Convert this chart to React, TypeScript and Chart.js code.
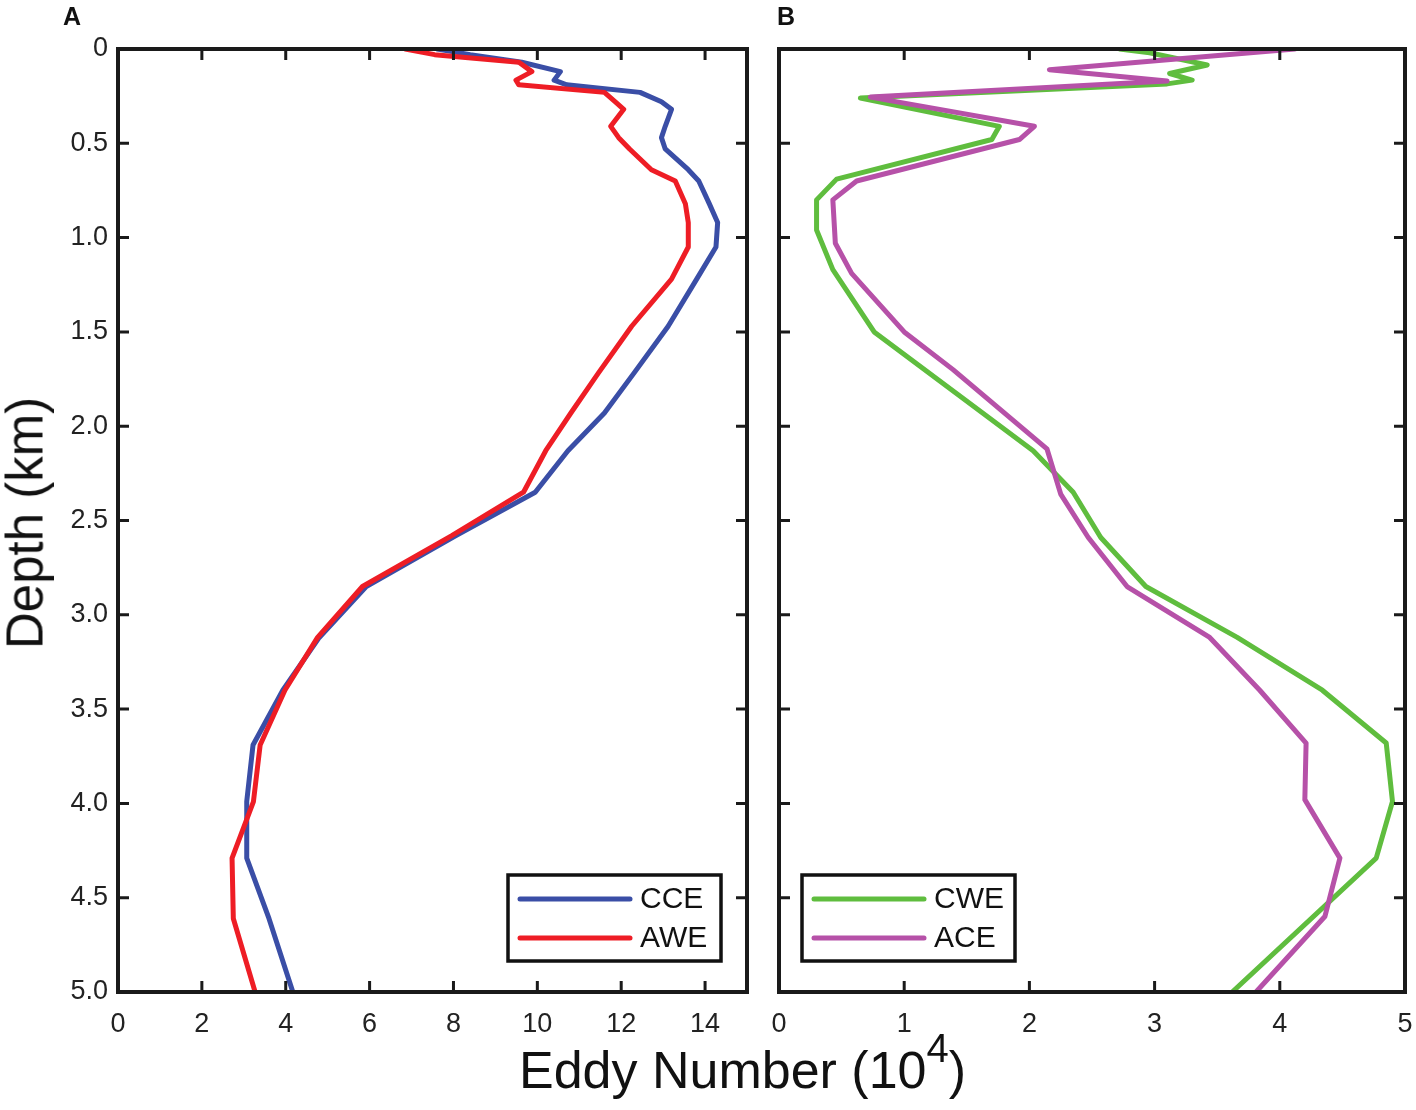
import { useEffect, useRef } from 'react';
import { Chart, registerables } from 'chart.js';

Chart.register(...registerables);

const FONT = '"Liberation Sans", Arial, Helvetica, sans-serif';

// depth levels (km) and eddy numbers (10^4)
const depthA = [0, 0.03, 0.07, 0.12, 0.165, 0.19, 0.23, 0.28, 0.32, 0.41, 0.47, 0.53, 0.64, 0.70, 0.82, 0.92, 1.05, 1.22, 1.47, 1.72, 1.93, 2.13, 2.35, 2.58, 2.85, 3.12, 3.40, 3.69, 3.99, 4.29, 4.61, 5.0];
const cce = [7.61, 8.4, 9.63, 10.55, 10.4, 10.7, 12.45, 12.96, 13.2, 13.05, 12.96, 13.05, 13.6, 13.85, 14.1, 14.3, 14.26, 13.8, 13.12, 12.3, 11.6, 10.73, 9.95, 8.06, 5.92, 4.8, 3.93, 3.22, 3.07, 3.07, 3.6, 4.17];
const awe = [6.85, 7.55, 9.56, 9.87, 9.49, 9.56, 11.6, 11.86, 12.06, 11.75, 11.94, 12.2, 12.72, 13.29, 13.53, 13.6, 13.6, 13.2, 12.25, 11.45, 10.8, 10.2, 9.67, 7.96, 5.83, 4.76, 3.98, 3.39, 3.23, 2.72, 2.75, 3.27];

const depthCWE = [0, 0.02, 0.085, 0.13, 0.165, 0.185, 0.26, 0.41, 0.48, 0.69, 0.80, 0.96, 1.17, 1.50, 2.13, 2.35, 2.59, 2.85, 3.12, 3.40, 3.68, 3.99, 4.29, 5.0];
const cwe = [2.72, 2.96, 3.42, 3.12, 3.30, 3.10, 0.65, 1.76, 1.70, 0.46, 0.30, 0.30, 0.43, 0.76, 2.03, 2.35, 2.57, 2.93, 3.66, 4.34, 4.85, 4.90, 4.77, 3.62];
const depthACE = [0, 0.11, 0.17, 0.255, 0.41, 0.48, 0.70, 0.80, 1.03, 1.19, 1.50, 1.70, 2.12, 2.36, 2.59, 2.85, 3.12, 3.40, 3.68, 3.98, 4.29, 4.60, 5.0];
const ace = [4.12, 2.16, 3.10, 0.73, 2.04, 1.92, 0.62, 0.43, 0.45, 0.58, 1.00, 1.39, 2.14, 2.25, 2.47, 2.78, 3.44, 3.84, 4.21, 4.20, 4.48, 4.36, 3.81];

const depthTicks = [0, 0.5, 1, 1.5, 2, 2.5, 3, 3.5, 4, 4.5, 5];
const xTicksA = [0, 2, 4, 6, 8, 10, 12, 14];
const xTicksB = [0, 1, 2, 3, 4, 5];

type Series = {
  label: string,
  depth: number[],
  values: number[],
  color: string,
  order: number,
};

const seriesA: Series[] = [
  { label: 'CCE', depth: depthA, values: cce, color: '#3a4ea6', order: 1 },
  { label: 'AWE', depth: depthA, values: awe, color: '#ee1d25', order: 0 },
];
const seriesB: Series[] = [
  { label: 'CWE', depth: depthCWE, values: cwe, color: '#5fbd3e', order: 1 },
  { label: 'ACE', depth: depthACE, values: ace, color: '#b651a8', order: 0 },
];

const CANVAS_H = 1050;
const PLOT_TOP = 49;
const PLOT_BOTTOM = 992;

// box frame with inward tick marks on all four sides
const frameTicks = {
  id: 'frameTicks',
  afterDraw(chart: any) {
    const { ctx, chartArea: a, scales } = chart;
    const len = 11;
    ctx.save();
    ctx.strokeStyle = '#1a1a1a';
    ctx.lineWidth = 3;
    ctx.beginPath();
    scales.x.ticks.forEach((t: any) => {
      const px = scales.x.getPixelForValue(t.value);
      ctx.moveTo(px, a.bottom);
      ctx.lineTo(px, a.bottom - len);
      ctx.moveTo(px, a.top);
      ctx.lineTo(px, a.top + len);
    });
    scales.y.ticks.forEach((t: any) => {
      const py = scales.y.getPixelForValue(t.value);
      ctx.moveTo(a.left, py);
      ctx.lineTo(a.left + len, py);
      ctx.moveTo(a.right, py);
      ctx.lineTo(a.right - len, py);
    });
    ctx.stroke();
    ctx.lineWidth = 4;
    ctx.strokeRect(a.left, a.top, a.right - a.left, a.bottom - a.top);
    ctx.restore();
  },
};

const boxLegend = {
  id: 'boxLegend',
  afterDraw(chart: any, _args: any, opts: any) {
    const { ctx, chartArea: a } = chart;
    const w = 213;
    const h = 86;
    const x0 = opts.side === 'right' ? a.right - 26 - w : a.left + 23;
    const y0 = a.bottom - 31 - h;
    ctx.save();
    ctx.fillStyle = '#fff';
    ctx.fillRect(x0, y0, w, h);
    ctx.lineWidth = 3.5;
    ctx.strokeStyle = '#111';
    ctx.strokeRect(x0, y0, w, h);
    chart.data.datasets.forEach((ds: any, i: number) => {
      const y = y0 + 24 + i * 39;
      ctx.strokeStyle = ds.borderColor;
      ctx.lineWidth = 5;
      ctx.lineCap = 'round';
      ctx.beginPath();
      ctx.moveTo(x0 + 12, y);
      ctx.lineTo(x0 + 122, y);
      ctx.stroke();
      ctx.fillStyle = '#111';
      ctx.font = `30px ${FONT}`;
      ctx.textBaseline = 'middle';
      ctx.fillText(ds.label, x0 + 132, y + 1);
    });
    ctx.restore();
  },
};

type PanelProps = {
  left: number,
  width: number,
  plotLeft: number,
  plotRight: number,
  series: Series[],
  xMax: number,
  xTicks: number[],
  yLabels: boolean,
  legendSide: 'left' | 'right',
};

function Panel({ left, width, plotLeft, plotRight, series, xMax, xTicks, yLabels, legendSide }: PanelProps) {
  const canvasRef = useRef<HTMLCanvasElement | null>(null);

  useEffect(() => {
    if (canvasRef.current === null) return () => {};
    const tickFont = { family: FONT, size: 27 };
    const chart = new Chart(canvasRef.current, {
      type: 'scatter',
      data: {
        datasets: series.map((s) => ({
          label: s.label,
          data: s.depth.map((d, i) => ({ x: s.values[i], y: d })),
          borderColor: s.color,
          backgroundColor: s.color,
          borderWidth: 5,
          showLine: true,
          pointRadius: 0,
          pointHoverRadius: 0,
          borderJoinStyle: 'round',
          borderCapStyle: 'round',
          order: s.order,
        })),
      },
      options: {
        responsive: false,
        animation: false,
        events: [],
        layout: {
          padding: { top: PLOT_TOP, right: left + width - plotRight, left: 0, bottom: 0 },
        },
        plugins: {
          legend: { display: false },
          tooltip: { enabled: false },
          // @ts-ignore
          boxLegend: { side: legendSide },
        },
        scales: {
          x: {
            type: 'linear',
            min: 0,
            max: xMax,
            grid: { display: false, drawTicks: false },
            border: { display: false },
            afterBuildTicks: (scale: any) => {
              scale.ticks = xTicks.map((v) => ({ value: v }));
            },
            afterFit: (scale: any) => {
              scale.height = CANVAS_H - PLOT_BOTTOM;
            },
            ticks: {
              font: tickFont,
              color: '#222',
              padding: 16,
              maxRotation: 0,
              autoSkip: false,
              callback: (v: any) => String(v),
            },
          },
          y: {
            type: 'linear',
            min: 0,
            max: 5,
            reverse: true,
            grid: { display: false, drawTicks: false },
            border: { display: false },
            afterBuildTicks: (scale: any) => {
              scale.ticks = depthTicks.map((v) => ({ value: v }));
            },
            afterFit: (scale: any) => {
              scale.width = plotLeft - left;
            },
            ticks: {
              display: yLabels,
              font: tickFont,
              color: '#222',
              padding: 10,
              callback: (v: any) => (Number(v) === 0 ? '0' : Number(v).toFixed(1)),
            },
          },
        },
      },
      plugins: [frameTicks, boxLegend],
    });
    return () => {
      chart.destroy();
    };
  }, []);

  return (
    <canvas
      ref={canvasRef}
      width={width}
      height={CANVAS_H}
      style={{ position: 'absolute', left, top: 0, width, height: CANVAS_H }}
    />
  );
}

export default function App() {
  return (
    <div
      style={{
        position: 'absolute',
        left: 0,
        top: 0,
        width: 1416,
        height: 1110,
        background: '#fff',
        fontFamily: FONT,
        color: '#111',
        overflow: 'hidden',
      }}
    >
      <Panel
        left={0}
        width={760}
        plotLeft={118}
        plotRight={747}
        series={seriesA}
        xMax={15}
        xTicks={xTicksA}
        yLabels
        legendSide="right"
      />
      <Panel
        left={730}
        width={720}
        plotLeft={779}
        plotRight={1405}
        series={seriesB}
        xMax={5}
        xTicks={xTicksB}
        yLabels={false}
        legendSide="left"
      />
      <div style={{ position: 'absolute', left: 63, top: 4, fontSize: 25, fontWeight: 'bold', lineHeight: 1 }}>A</div>
      <div style={{ position: 'absolute', left: 777, top: 4, fontSize: 25, fontWeight: 'bold', lineHeight: 1 }}>B</div>
      <div
        style={{
          position: 'absolute',
          left: 25,
          top: 523,
          transform: 'translate(-50%, -50%) rotate(-90deg)',
          fontSize: 51,
          lineHeight: 1,
          whiteSpace: 'nowrap',
        }}
      >
        Depth (km)
      </div>
      <div style={{ position: 'absolute', left: 519, top: 1044, fontSize: 52, lineHeight: 1, whiteSpace: 'nowrap' }}>
        Eddy Number (10
        <sup style={{ fontSize: 40, position: 'relative', top: -26, verticalAlign: 'baseline', lineHeight: 0 }}>4</sup>
        )
      </div>
    </div>
  );
}
